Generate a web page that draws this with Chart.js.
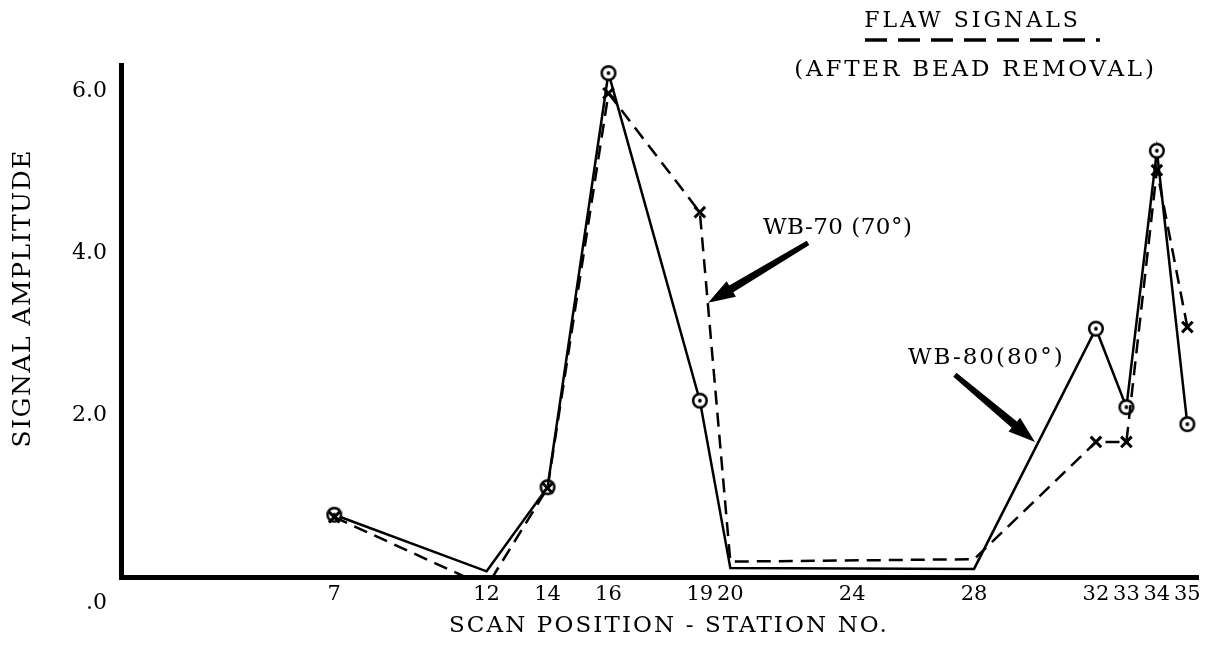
<!DOCTYPE html>
<html>
<head>
<meta charset="utf-8">
<title>Flaw signals (after bead removal)</title>
<script src="https://cdn.jsdelivr.net/npm/chart.js@4.4.1/dist/chart.umd.min.js"></script>
<style>
  html, body { margin: 0; padding: 0; background: #fff; }
</style>
</head>
<body>
<canvas id="flawChart" width="1215" height="655"></canvas>
<script>
// scan stations
const stations = [7, 12, 14, 16, 19, 20, 28, 32, 33, 34, 35];
const stationTicks = [7, 12, 14, 16, 19, 20, 24, 28, 32, 33, 34, 35];
const markedStations = [7, 14, 16, 19, 32, 33, 34, 35];
const amplitudeTicks = [0, 2, 4, 6];

// WB-80 (80°) - solid line, circle markers
const wb80 = [0.77, 0.07, 1.11, 6.23, 2.18, 0.11, 0.10, 3.07, 2.10, 5.27, 1.89];
// WB-70 (70°) - dashed line, x markers
const wb70 = [0.74, -0.12, 1.10, 5.98, 4.51, 0.19, 0.22, 1.67, 1.67, 5.03, 3.09];

const FONT = "'DejaVu Serif', serif";

function ringDot() {
    const c = document.createElement('canvas');
    c.width = 20; c.height = 20;
    const g = c.getContext('2d');
    g.fillStyle = '#fff';
    g.strokeStyle = '#000';
    g.lineWidth = 2.5;
    g.beginPath(); g.arc(10, 10, 6.8, 0, Math.PI * 2); g.fill(); g.stroke();
    g.fillStyle = '#000';
    g.beginPath(); g.arc(10, 10, 1.9, 0, Math.PI * 2); g.fill();
    return c;
}

const toPoints = vals => stations.map((s, i) => ({ x: s, y: vals[i] }));
const markerRadius = r => ctx => (ctx.raw && markedStations.includes(ctx.raw.x)) ? r : 0;

function label(ctx, text, x, y, size, spacing, align) {
    ctx.save();
    ctx.font = size + 'px ' + FONT;
    ctx.letterSpacing = spacing + 'px';
    ctx.fillStyle = '#000';
    ctx.textAlign = align || 'center';
    ctx.textBaseline = 'middle';
    ctx.fillText(text, align === 'left' ? x : x + spacing / 2, y);
    ctx.restore();
}

function arrow(ctx, x1, y1, x2, y2) {
    const len = Math.hypot(x2 - x1, y2 - y1);
    const ux = (x2 - x1) / len, uy = (y2 - y1) / len;
    const nx = -uy, ny = ux;
    const head = 27, half = 9, tail = 2.5, neck = 4;
    const bx = x2 - ux * head, by = y2 - uy * head;
    ctx.save();
    ctx.fillStyle = '#000';
    ctx.beginPath();
    ctx.moveTo(x1 + nx * tail, y1 + ny * tail);
    ctx.lineTo(bx + nx * neck, by + ny * neck);
    ctx.lineTo(bx + nx * half, by + ny * half);
    ctx.lineTo(x2, y2);
    ctx.lineTo(bx - nx * half, by - ny * half);
    ctx.lineTo(bx - nx * neck, by - ny * neck);
    ctx.lineTo(x1 - nx * tail, y1 - ny * tail);
    ctx.closePath();
    ctx.fill();
    ctx.restore();
}

const annotations = {
    id: 'annotations',
    afterDraw(chart) {
        const { ctx, chartArea, scales: { x, y } } = chart;
        const px = v => x.getPixelForValue(v);
        const py = v => y.getPixelForValue(v);

        // heading with dashed line sample
        label(ctx, 'FLAW SIGNALS', px(27.9), py(6.87), 22, 3);
        ctx.save();
        ctx.strokeStyle = '#000';
        ctx.lineWidth = 3.5;
        ctx.setLineDash([22, 11]);
        ctx.beginPath();
        ctx.moveTo(px(24.42), py(6.64));
        ctx.lineTo(px(32.13), py(6.64));
        ctx.stroke();
        ctx.restore();
        label(ctx, '(AFTER BEAD REMOVAL)', px(28.0), py(6.27), 23, 2.8);

        // probe callouts
        label(ctx, 'WB-70 (70°)', px(21.07), py(4.31), 23, 0.5, 'left');
        arrow(ctx, px(22.55), py(4.13), px(19.27), py(3.39));
        label(ctx, 'WB-80(80°)', px(25.83), py(2.71), 23, 2, 'left');
        arrow(ctx, px(27.37), py(2.50), px(30.0), py(1.67));

        // axis titles
        label(ctx, 'SCAN POSITION - STATION NO.', px(17.95), chartArea.bottom + 49, 23, 2.1);
        ctx.save();
        ctx.translate(23, (chartArea.top + chartArea.bottom) / 2 - 22);
        ctx.rotate(-Math.PI / 2);
        label(ctx, 'SIGNAL AMPLITUDE', 0, 0, 25, 1.5);
        ctx.restore();
    }
};

new Chart(document.getElementById('flawChart').getContext('2d'), {
    type: 'line',
    data: {
        datasets: [{
            label: 'WB-70 (70°)',
            data: toPoints(wb70),
            borderColor: '#000',
            borderWidth: 2.5,
            borderDash: [14, 8],
            pointStyle: 'crossRot',
            pointRadius: markerRadius(7.5),
            pointBorderWidth: 3,
            pointBorderColor: '#000',
            tension: 0
        }, {
            label: 'WB-80(80°)',
            data: toPoints(wb80),
            borderColor: '#000',
            borderWidth: 2.5,
            pointStyle: ringDot(),
            pointRadius: markerRadius(7),
            tension: 0
        }]
    },
    options: {
        responsive: false,
        animation: false,
        events: [],
        layout: { padding: { top: 65, right: 17, bottom: 0, left: 0 } },
        plugins: {
            legend: { display: false },
            tooltip: { enabled: false }
        },
        scales: {
            x: {
                type: 'linear',
                min: 0,
                max: 35.35,
                grid: { display: false, drawTicks: false },
                border: { display: true, color: '#000', width: 5 },
                afterBuildTicks: s => { s.ticks = stationTicks.map(v => ({ value: v })); },
                afterFit: s => { s.height = 78; },
                ticks: {
                    autoSkip: false,
                    maxRotation: 0,
                    minRotation: 0,
                    padding: 5,
                    color: '#000',
                    font: { family: FONT, size: 21 },
                    callback: v => String(v)
                }
            },
            y: {
                type: 'linear',
                min: 0,
                max: 6.33,
                grid: { display: false, drawTicks: false },
                border: { display: true, color: '#000', width: 5 },
                afterBuildTicks: s => { s.ticks = amplitudeTicks.map(v => ({ value: v })); },
                afterFit: s => { s.width = 121; },
                ticks: {
                    padding: 14,
                    color: '#000',
                    font: { family: FONT, size: 22 },
                    callback: v => v === 0 ? ['', '', '.0'] : v.toFixed(1)
                }
            }
        }
    },
    plugins: [annotations]
});
</script>
</body>
</html>
